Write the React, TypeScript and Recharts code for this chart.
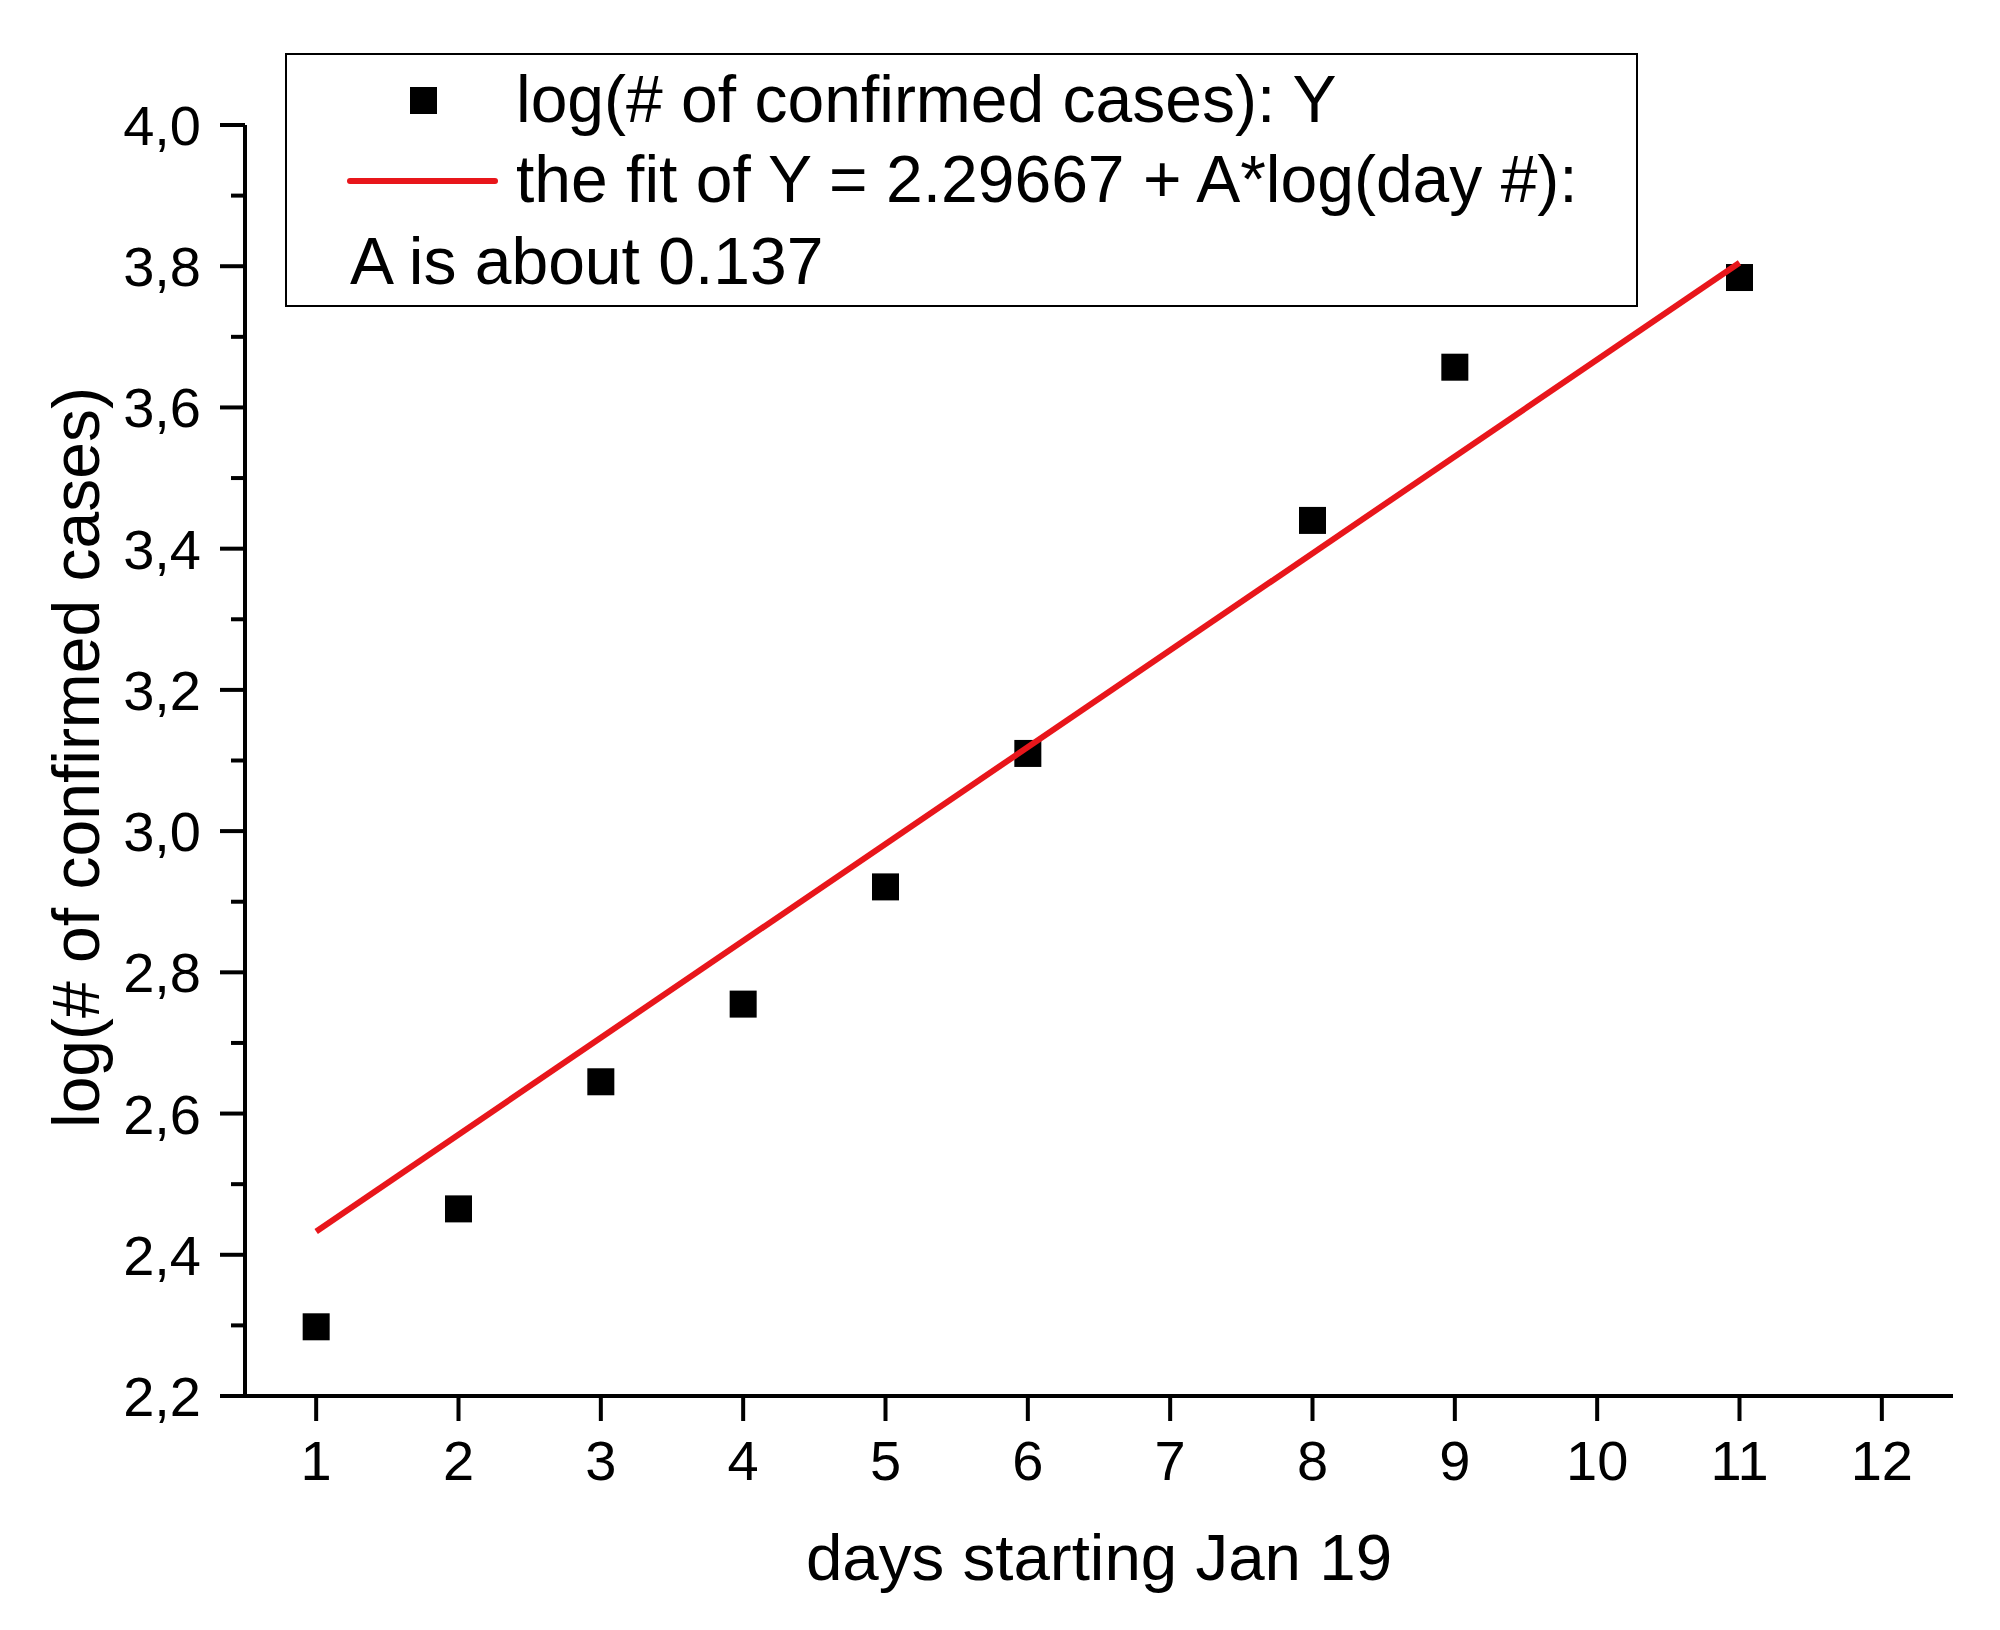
import React from "react"
import { ScatterChart, Scatter, XAxis, YAxis, Legend, Label } from "recharts"

// day numbers (x) and log of confirmed cases (y)
const days = [1, 2, 3, 4, 5, 6, 8, 9, 11]
const logCases = [2.298, 2.465, 2.645, 2.755, 2.921, 3.11, 3.44, 3.657, 3.784]

// end points of the fitted straight line
const fitDays = [1, 11]
const fitValues = [2.433, 3.805]

const xTicks = [1, 2, 3, 4, 5, 6, 7, 8, 9, 10, 11, 12]
const yMajorTicks = [2.2, 2.4, 2.6, 2.8, 3.0, 3.2, 3.4, 3.6, 3.8, 4.0]
const yMinorTicks = [2.3, 2.5, 2.7, 2.9, 3.1, 3.3, 3.5, 3.7, 3.9]

const seriesNames = ["log(# of confirmed cases): Y", "the fit of Y = 2.29667 + A*log(day #):"]
const fitNote = "A is about 0.137"
const xTitle = "days starting Jan 19"
const yTitle = "log(# of confirmed cases)"

const FONT = "'Liberation Sans', Arial, sans-serif"
const RED = "#e8161b"

const points = days.map((d, i) => ({ x: d, y: logCases[i] }))
const fitLine = fitDays.map((d, i) => ({ x: d, y: fitValues[i] }))
const yTicks = [...yMajorTicks, ...yMinorTicks].sort((a, b) => a - b)

const isMajor = (v: number) => yMajorTicks.some((t) => Math.abs(t - v) < 1e-6)

function YTick({ x, y, payload }: any) {
  const v = payload.value as number
  const major = isMajor(v)
  return (
    <g>
      <line x1={x - (major ? 25 : 14)} x2={x} y1={y} y2={y} stroke="#000" strokeWidth={4} />
      {major && (
        <text x={x - 44} y={y + 20} textAnchor="end" fontSize={56} fontFamily={FONT} fill="#000">
          {v.toFixed(1).replace(".", ",")}
        </text>
      )}
    </g>
  )
}

function XTick({ x, y, payload }: any) {
  return (
    <g>
      <line x1={x} x2={x} y1={y} y2={y + 25} stroke="#000" strokeWidth={4} />
      <text x={x} y={y + 84} textAnchor="middle" fontSize={56} fontFamily={FONT} fill="#000">
        {payload.value}
      </text>
    </g>
  )
}

function XTitle({ viewBox }: any) {
  const vb = viewBox || { x: 245, y: 1396, width: 1708 }
  return (
    <text x={vb.x + vb.width / 2} y={vb.y + 184} textAnchor="middle" fontSize={65.5} fontFamily={FONT} fill="#000">
      {xTitle}
    </text>
  )
}

function YTitle({ viewBox }: any) {
  const vb = viewBox || { y: 125, height: 1271 }
  const cx = 99
  const cy = vb.y + vb.height / 2 - 3
  return (
    <text x={cx} y={cy} transform={`rotate(-90 ${cx} ${cy})`} textAnchor="middle" fontSize={66} fontFamily={FONT} fill="#000">
      {yTitle}
    </text>
  )
}

function LegendBox({ payload }: any) {
  const names = (payload || []).map((p: any) => p.value)
  return (
    <svg width={1353} height={254} style={{ display: "block" }}>
      <rect x={1} y={1} width={1351} height={252} fill="#fff" stroke="#000" strokeWidth={2} />
      <rect x={125} y={34} width={27} height={27} fill="#000" />
      <text x={231} y={69} fontSize={66} fontFamily={FONT} fill="#000">{names[0] ?? seriesNames[0]}</text>
      <line x1={65} x2={210} y1={128} y2={128} stroke={RED} strokeWidth={6} strokeLinecap="round" />
      <text x={231} y={149} fontSize={66} fontFamily={FONT} fill="#000">{names[1] ?? seriesNames[1]}</text>
      <text x={65} y={231} fontSize={66} fontFamily={FONT} fill="#000">{fitNote}</text>
    </svg>
  )
}

const Square = ({ cx, cy }: any) => <rect x={cx - 13.5} y={cy - 13.5} width={27} height={27} fill="#000" />

export default function App() {
  return (
    <div style={{ position: "absolute", left: 0, top: 0, width: 2000, height: 1630, background: "#fff", fontFamily: FONT }}>
      <ScatterChart width={2000} height={1630} margin={{ top: 125, right: 47, bottom: 0, left: 0 }}>
        <XAxis
          type="number"
          dataKey="x"
          domain={[0.5, 12.5]}
          ticks={xTicks}
          interval={0}
          height={234}
          axisLine={{ stroke: "#000", strokeWidth: 4 }}
          tickLine={false}
          tickSize={0}
          tickMargin={0}
          tick={<XTick />}
        >
          <Label content={<XTitle />} />
        </XAxis>
        <YAxis
          type="number"
          dataKey="y"
          domain={[2.2, 4.0]}
          ticks={yTicks}
          interval={0}
          width={245}
          axisLine={{ stroke: "#000", strokeWidth: 4 }}
          tickLine={false}
          tickSize={0}
          tickMargin={0}
          tick={<YTick />}
        >
          <Label content={<YTitle />} />
        </YAxis>
        <Legend
          layout="vertical"
          align="center"
          verticalAlign="middle"
          content={<LegendBox />}
          wrapperStyle={{ left: 285, top: 53, width: 1353, height: 254 }}
        />
        <Scatter name={seriesNames[0]} data={points} shape={<Square />} isAnimationActive={false} />
        <Scatter
          name={seriesNames[1]}
          data={fitLine}
          line={{ stroke: RED, strokeWidth: 6 }}
          shape={() => <g />}
          isAnimationActive={false}
        />
      </ScatterChart>
    </div>
  )
}
